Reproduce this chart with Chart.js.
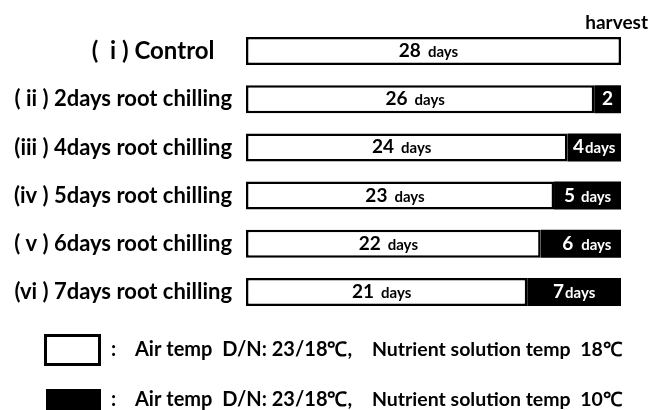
<!DOCTYPE html>
<html>
<head>
<meta charset="utf-8">
<script src="https://cdn.jsdelivr.net/npm/chart.js@4"></script>
<style>
html,body{margin:0;padding:0;background:#fff;}
#wrap{position:relative;width:651px;height:410px;}
</style>
</head>
<body>
<div id="wrap"><canvas id="c" width="651" height="410"></canvas></div>
<script>
const categories = ["(  i ) Control   ", "( ii ) 2days root chilling", "(iii ) 4days root chilling", "(iv ) 5days root chilling", "( v ) 6days root chilling", "(vi ) 7days root chilling"];
const normalDays = [28, 26, 24, 23, 22, 21];
const chillDays = [0, 2, 4, 5, 6, 7];
const normalUnits = ["days", "days", "days", "days", "days", "days"];
const chillUnits = ["", "", "days", "days", "days", "days"];
const chillGaps = [0, 0, 1, 6, 8, 1];
const legendLabels = ["Air temp  D/N: 23/18\u2103,", "Air temp  D/N: 23/18\u2103,"];
const legendLabels2 = ["Nutrient solution temp  18\u2103", "Nutrient solution temp  10\u2103"];
const topLabel = "harvest";

const FONT = "Lato, 'Open Sans', sans-serif";

function drawMixed(ctx, x, y, num, unit, gap, color) {
  ctx.save();
  ctx.fillStyle = color;
  ctx.textBaseline = "alphabetic";
  const f1 = "bold 19px " + FONT, f2 = "bold 15px " + FONT;
  ctx.font = f1; const w1 = ctx.measureText(num).width;
  ctx.font = f2; const w2 = unit ? ctx.measureText(unit).width : 0;
  const tw = w1 + (unit ? gap + w2 : 0);
  const sx = x - tw / 2;
  ctx.font = f1; ctx.textAlign = "left"; ctx.fillText(num, sx, y + 6);
  if (unit) { ctx.font = f2; ctx.fillText(unit, sx + w1 + gap, y + 6); }
  ctx.restore();
}

const labelPlugin = {
  id: "labels",
  afterDatasetsDraw(chart) {
    const ctx = chart.ctx;
    const m0 = chart.getDatasetMeta(0), m1 = chart.getDatasetMeta(1);
    m0.data.forEach((bar, i) => {
      drawMixed(ctx, (bar.base + bar.x) / 2 - 5, bar.y, String(normalDays[i]), normalUnits[i], 7, "#000");
      if (chillDays[i] > 0) {
        const b = m1.data[i];
        drawMixed(ctx, (b.base + b.x) / 2 + (i === 4 ? 6 : 0), b.y, String(chillDays[i]), chillUnits[i], chillGaps[i], "#fff");
      }
    });
    ctx.save();
    ctx.font = "bold 19px " + FONT;
    ctx.fillStyle = "#000";
    ctx.textAlign = "right";
    ctx.textBaseline = "alphabetic";
    ctx.fillText(topLabel, 648, 29);
    const ly = [350, 400];
    legendLabels.forEach((t, i) => {
      if (i === 0) {
        ctx.fillStyle = "#fff"; ctx.fillRect(45, ly[i] - 14, 54, 29);
        ctx.strokeStyle = "#000"; ctx.lineWidth = 3; ctx.strokeRect(45.5, ly[i] - 14.5, 54, 29);
      } else {
        ctx.fillStyle = "#000"; ctx.fillRect(46, ly[i] - 11, 55, 30);
      }
      ctx.fillStyle = "#000";
      ctx.textAlign = "left";
      ctx.textBaseline = "middle";
      ctx.font = "bold 20px " + FONT;
      ctx.fillText(":", 111, ly[i]);
      ctx.fillText(t, 135, ly[i]);
      ctx.font = "bold 19.5px " + FONT;
      ctx.fillText(legendLabels2[i], 372, ly[i]);
    });
    ctx.restore();
  }
};

new Chart(document.getElementById("c"), {
  type: "bar",
  data: {
    labels: categories,
    datasets: [
      { data: normalDays, backgroundColor: "#fff", borderColor: "#000", borderWidth: 2.5, borderSkipped: false, barPercentage: 0.58, categoryPercentage: 1 },
      { data: chillDays, backgroundColor: "#000", borderColor: "#000", borderWidth: 0, barPercentage: 0.58, categoryPercentage: 1 }
    ]
  },
  options: {
    indexAxis: "y",
    responsive: false,
    animation: false,
    layout: { padding: { top: 27, bottom: 94, right: 30, left: 0 } },
    plugins: { legend: { display: false }, tooltip: { enabled: false } },
    scales: {
      x: { stacked: true, display: false, min: 0, max: 28 },
      y: {
        stacked: true,
        grid: { display: false },
        border: { display: false },
        afterFit(scale) { scale.width = 246; },
        ticks: {
          padding: 6,
          color: "#000",
          font: (ctx) => ({ family: FONT, weight: "bold", size: ctx.index === 0 ? 24 : 22 })
        }
      }
    }
  },
  plugins: [labelPlugin]
});
</script>
</body>
</html>
